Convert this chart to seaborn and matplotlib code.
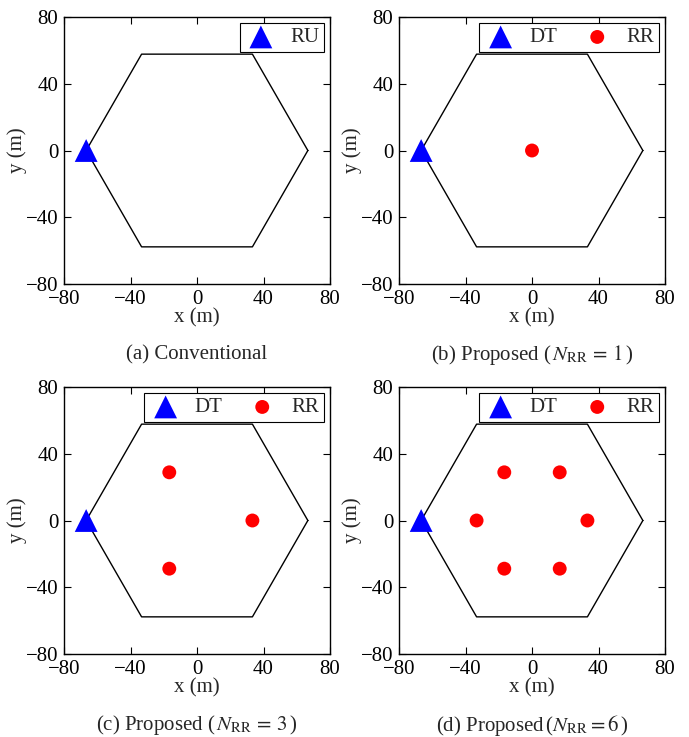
import matplotlib
matplotlib.use("Agg")
import matplotlib.pyplot as plt
import seaborn as sns
import pandas as pd
import numpy as np

sns.set_theme(style="white")
plt.rcParams['font.family'] = ['Liberation Serif', 'DejaVu Serif']
plt.rcParams['mathtext.fontset'] = 'stix'

# Hexagon boundary vertices (m)
hex_x = [66.67, 33.33, -33.33, -66.67, -33.33, 33.33, 66.67]
hex_y = [0.0, 57.74, 57.74, 0.0, -57.74, -57.74, 0.0]

# Transmitter (RU / DT) position
tx_x = [-66.67]
tx_y = [0.0]

# RR positions per panel
rr_x_1 = [0.0]
rr_y_1 = [0.0]
rr_x_3 = [33.33, -16.67, -16.67]
rr_y_3 = [0.0, 28.87, -28.87]
rr_x_6 = [33.33, 16.67, -16.67, -33.33, -16.67, 16.67]
rr_y_6 = [0.0, 28.87, 28.87, 0.0, -28.87, -28.87]

ticks = [-80, -40, 0, 40, 80]
tick_labels = ['\u221280', '\u221240', '0', '40', '80']

captions = ['(a) Conventional',
            r'(b) Proposed ($\,N_{\mathrm{RR}}\,=\,1\,$)',
            r'(c) Proposed ($\,N_{\mathrm{RR}}\,=\,3\,$)',
            r'(d) Proposed$\,$($N_{\mathrm{RR}}=6\,$)']
tx_labels = ['RU', 'DT', 'DT', 'DT']
rr_sets = [None, (rr_x_1, rr_y_1), (rr_x_3, rr_y_3), (rr_x_6, rr_y_6)]

FS = 15
fig = plt.figure(figsize=(6.89, 7.37), dpi=100)
W, H = 689, 737
boxes = [(64, 17, 330, 284), (399, 17, 665, 284),
         (64, 387, 330, 654), (399, 387, 665, 654)]

hex_df = pd.DataFrame({'x': hex_x, 'y': hex_y})

for i, (l, t, r, b) in enumerate(boxes):
    ax = fig.add_axes([l / W, 1 - b / H, (r - l) / W, (b - t) / H])
    sns.lineplot(data=hex_df, x='x', y='y', sort=False, color='black',
                 linewidth=1.0, ax=ax, estimator=None)
    tri = ax.scatter(tx_x, tx_y, marker='^', s=270, color='#0000ff',
                     edgecolors='none', zorder=3, label=tx_labels[i])
    handles = [tri]
    if rr_sets[i] is not None:
        rx, ry = rr_sets[i]
        pts = ax.scatter(rx, ry, marker='o', s=100, color='#ff0000',
                         edgecolors='none', zorder=3, label='RR')
        handles.append(pts)
    ax.set_xlim(-80, 80)
    ax.set_ylim(-80, 80)
    ax.set_xticks(ticks)
    ax.set_yticks(ticks)
    ax.set_xticklabels(tick_labels)
    ax.set_yticklabels(tick_labels)
    ax.tick_params(direction='in', length=5, width=0.8, top=True, right=True,
                   bottom=True, left=True, labelsize=FS, colors='black')
    ax.tick_params(axis='x', pad=4.5)
    ax.tick_params(axis='y', pad=4)
    for sp in ax.spines.values():
        sp.set_color('black')
        sp.set_linewidth(1.0)
    ax.set_xlabel('x (m)', fontsize=FS, labelpad=-1)
    ax.set_ylabel('y (m)', fontsize=FS, labelpad=-1)
    leg = ax.legend(handles=handles, loc='upper right', ncol=len(handles),
                    fontsize=FS, frameon=True, fancybox=False, framealpha=1,
                    edgecolor='black', borderpad=0.22, handletextpad=0.6,
                    columnspacing=1.1, handlelength=1.6,
                    borderaxespad=0.3)
    leg.get_frame().set_linewidth(0.8)
    ax.text(0.5, -0.266, captions[i], transform=ax.transAxes, ha='center',
            va='center', fontsize=FS)

fig.savefig('out.png', dpi=100)
